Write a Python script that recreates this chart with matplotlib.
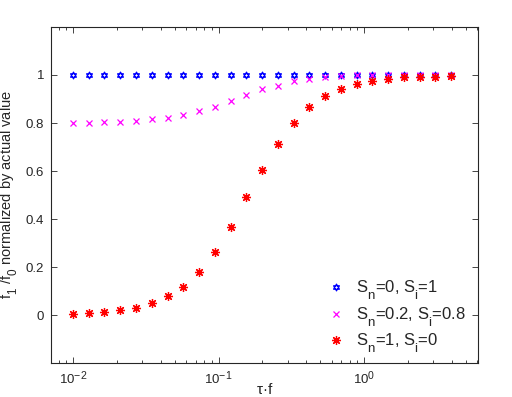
import numpy as np
import matplotlib
matplotlib.use("Agg")
import matplotlib.pyplot as plt
from matplotlib.path import Path
try:
    import matplotlib._mathtext as _mt
    _mt.SHRINK_FACTOR = 0.8
    _mt.FontConstantsBase.sub1 = 0.8
    _mt.FontConstantsBase.subdrop = 0.8
except Exception:
    pass

plt.rcParams['font.family'] = ['Liberation Sans', 'DejaVu Sans']
plt.rcParams['mathtext.fontset'] = 'custom'
plt.rcParams['mathtext.rm'] = 'Liberation Sans'
plt.rcParams['mathtext.it'] = 'Liberation Sans'

tau_f = [0.01, 0.01283, 0.01646, 0.02113, 0.02711, 0.03479, 0.04465, 0.05729,
         0.07351, 0.09434, 0.1211, 0.1553, 0.1993, 0.2558, 0.3282, 0.4212,
         0.5404, 0.6935, 0.8900, 1.142, 1.466, 1.881, 2.413, 3.097, 3.98]

ratio_sn0 = [1.0] * 25
ratio_sn02 = [0.800, 0.800, 0.804, 0.804, 0.808, 0.817, 0.821, 0.833, 0.850,
              0.867, 0.892, 0.917, 0.942, 0.955, 0.974, 0.985, 0.993, 0.996,
              0.998, 0.999, 1.0, 1.0, 1.0, 1.0, 1.0]
ratio_sn1 = [0.004, 0.008, 0.0125, 0.021, 0.029, 0.050, 0.078, 0.118, 0.180,
             0.261, 0.368, 0.490, 0.605, 0.712, 0.800, 0.868, 0.911, 0.940,
             0.961, 0.974, 0.982, 0.990, 0.993, 0.993, 0.996]

labels = [r'S$_\mathregular{n}$=0, S$_\mathregular{i}$=1',
          r'S$_\mathregular{n}$=0.2, S$_\mathregular{i}$=0.8',
          r'S$_\mathregular{n}$=1, S$_\mathregular{i}$=0']
ytick_vals = [0, 0.2, 0.4, 0.6, 0.8, 1]
ytick_labels = ['0', '0.2', '0.4', '0.6', '0.8', '1']

# hexagram marker (two overlapping triangles)
ang_up = np.deg2rad([90, 210, 330, 90])
ang_dn = np.deg2rad([270, 30, 150, 270])
verts = list(zip(np.cos(ang_up), np.sin(ang_up))) + list(zip(np.cos(ang_dn), np.sin(ang_dn)))
codes = [Path.MOVETO, Path.LINETO, Path.LINETO, Path.CLOSEPOLY] * 2
hexagram = Path(verts, codes)

fig = plt.figure(figsize=(5.12, 3.97), dpi=100)
ax = fig.add_axes([0.0996, 0.0856, 0.834, 0.8464])

ax.plot(tau_f, ratio_sn0, linestyle='none', marker=hexagram, markersize=5,
        markerfacecolor='none', markeredgecolor='#0000ff', markeredgewidth=0.8, label=labels[0])
ax.plot(tau_f, ratio_sn02, linestyle='none', marker='x', markersize=4.5,
        color='#ff00ff', markeredgewidth=0.9, label=labels[1])
ax.plot(tau_f, ratio_sn1, linestyle='none', marker=(8, 2, 0), markersize=6.5,
        color='#ff0000', markeredgewidth=0.9, label=labels[2])

ax.set_xscale('log')
ax.set_xlim(0.00706, 6.07)
ax.set_ylim(-0.2, 1.2)
ax.set_yticks(ytick_vals)
ax.set_yticklabels(ytick_labels)
ax.set_xticks([0.01, 0.1, 1])

tc = '#262626'
for s in ax.spines.values():
    s.set_color(tc)
    s.set_linewidth(0.8)
ax.tick_params(which='both', direction='in', top=True, right=True, colors=tc,
               labelsize=9.5, labelcolor=tc)
ax.tick_params(which='major', length=4.5, width=0.6)
ax.tick_params(which='minor', length=2.5, width=0.6)
ax.tick_params(axis='x', pad=5)
ax.tick_params(axis='y', pad=5)

ax.set_xlabel(r'$\mathregular{\tau}$·f', fontsize=11, color=tc, labelpad=-4)
ax.set_ylabel(r'f$_\mathregular{1}$ /f$_\mathregular{0}$ normalized by actual value',
              fontsize=10.5, color=tc, labelpad=4)

leg = ax.legend(loc='lower right', frameon=False, fontsize=12, handlelength=1.2,
                handletextpad=0.6, labelspacing=0.2, bbox_to_anchor=(1.006, -0.022))
for t in leg.get_texts():
    t.set_color(tc)

fig.savefig('out.png', dpi=100)
